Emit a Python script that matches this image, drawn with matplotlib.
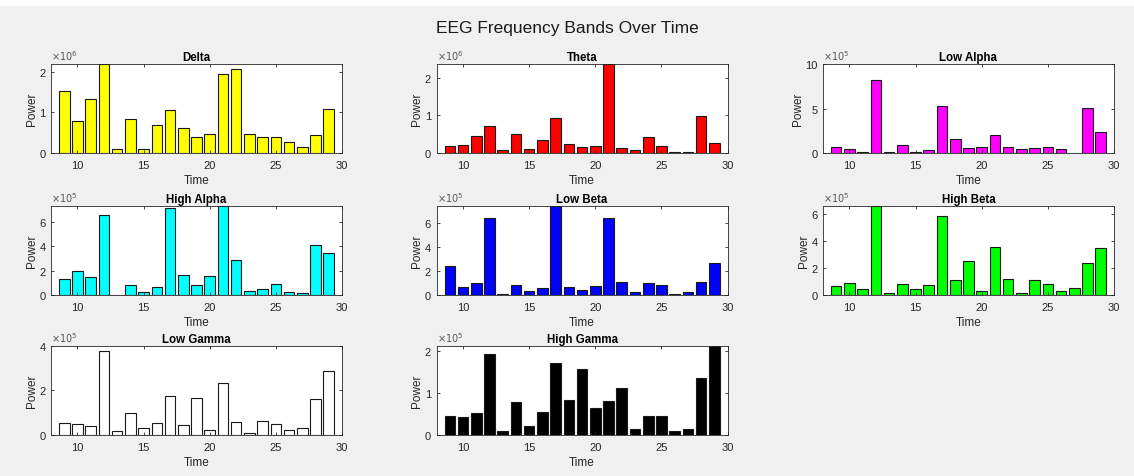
import matplotlib
matplotlib.use("Agg")
import matplotlib.pyplot as plt

plt.rcParams['font.family'] = ['Liberation Sans', 'DejaVu Sans']

# time stamps and band power (in units of 10^exp)
time = list(range(9, 30))

delta = [1.53, 0.79, 1.32, 2.19, 0.10, 0.85, 0.11, 0.70, 1.07, 0.61, 0.40,
         0.47, 1.94, 2.08, 0.47, 0.40, 0.39, 0.27, 0.14, 0.45, 1.09]
theta = [0.18, 0.21, 0.46, 0.71, 0.08, 0.50, 0.11, 0.34, 0.94, 0.25, 0.17,
         0.18, 2.36, 0.13, 0.08, 0.43, 0.18, 0.035, 0.035, 0.99, 0.28]
low_alpha = [0.64, 0.41, 0.07, 8.16, 0.15, 0.86, 0.15, 0.30, 5.28, 1.61, 0.56,
             0.64, 2.06, 0.64, 0.49, 0.56, 0.71, 0.49, 0.0, 5.02, 2.32]
high_alpha = [1.32, 1.97, 1.49, 6.54, 0.0, 0.84, 0.27, 0.68, 7.16, 1.62, 0.84,
              1.59, 7.30, 2.86, 0.35, 0.51, 0.92, 0.27, 0.19, 4.08, 3.46]
low_beta = [2.38, 0.63, 0.99, 6.44, 0.11, 0.85, 0.33, 0.58, 7.42, 0.63, 0.41,
            0.79, 6.44, 1.10, 0.22, 1.04, 0.85, 0.11, 0.27, 1.10, 2.63]
high_beta = [0.66, 0.85, 0.46, 6.59, 0.15, 0.80, 0.46, 0.73, 5.83, 1.10, 2.54,
             0.29, 3.56, 1.22, 0.15, 1.10, 0.80, 0.29, 0.54, 2.39, 3.51]
low_gamma = [0.52, 0.48, 0.42, 3.79, 0.19, 0.97, 0.30, 0.54, 1.73, 0.43, 1.67,
             0.22, 2.34, 0.57, 0.10, 0.64, 0.48, 0.22, 0.33, 1.60, 2.88]
high_gamma = [0.44, 0.43, 0.51, 1.92, 0.10, 0.78, 0.22, 0.55, 1.70, 0.84, 1.57,
              0.65, 0.80, 1.11, 0.14, 0.44, 0.44, 0.09, 0.13, 1.35, 2.11]

names = ['Delta', 'Theta', 'Low Alpha', 'High Alpha', 'Low Beta', 'High Beta',
         'Low Gamma', 'High Gamma']
series = [delta, theta, low_alpha, high_alpha, low_beta, high_beta, low_gamma, high_gamma]
exps = [6, 6, 5, 5, 5, 5, 5, 5]
ytops = [2.19, 2.36, 10, 7.30, 7.42, 6.59, 4, 2.11]
yticks = [[0, 1, 2], [0, 1, 2], [0, 5, 10], [0, 2, 4, 6], [0, 2, 4, 6],
          [0, 2, 4, 6], [0, 2, 4], [0, 1, 2]]
colors = ['#ffff00', '#ff0000', '#ff00ff', '#00ffff', '#0000ff', '#00ff00',
          '#ffffff', '#000000']

fig = plt.figure(figsize=(11.34, 4.77), dpi=100, facecolor='#f0f0f0')
fig.patches.append(plt.Rectangle((0, 1 - 6 / 477), 1, 6 / 477, transform=fig.transFigure,
                                 color='white', zorder=-1))
fig.text(0.5, 0.94, 'EEG Frequency Bands Over Time', ha='center', va='center',
         fontsize=12.5, color='#1a1a1a')

lefts = [0.045, 0.385, 0.7257]
bottoms = [0.677, 0.3795, 0.086]
w, h = 0.2566, 0.1866
axcol = '#262626'

for i, name in enumerate(names):
    r, c = divmod(i, 3)
    ax = fig.add_axes([lefts[c], bottoms[r], w, h])
    ax.bar(time, series[i], width=0.8, color=colors[i], edgecolor='#1a1a1a', linewidth=0.8)
    ax.set_xlim(8, 30)
    ax.set_ylim(0, ytops[i])
    ax.set_xticks([10, 15, 20, 25, 30])
    ax.set_yticks(yticks[i])
    ax.tick_params(direction='in', top=True, right=True, length=2.5, width=0.6,
                   labelsize=8, colors=axcol, labelcolor=axcol)
    ax.tick_params(axis='x', pad=5)
    ax.tick_params(axis='y', pad=4)
    for s in ax.spines.values():
        s.set_color(axcol)
        s.set_linewidth(0.6)
    ax.set_title(name, fontsize=8.3, fontweight='bold', pad=3, color='black')
    ax.set_xlabel('Time', fontsize=8.5, color=axcol, labelpad=3)
    ax.set_ylabel('Power', fontsize=8.5, color=axcol, labelpad=1)
    ax.text(0.0, 1.02, r'$\times10^{%d}$' % exps[i], transform=ax.transAxes,
            fontsize=7, color='#555555', ha='left', va='bottom')

fig.savefig('out.png', dpi=100, facecolor=fig.get_facecolor())
